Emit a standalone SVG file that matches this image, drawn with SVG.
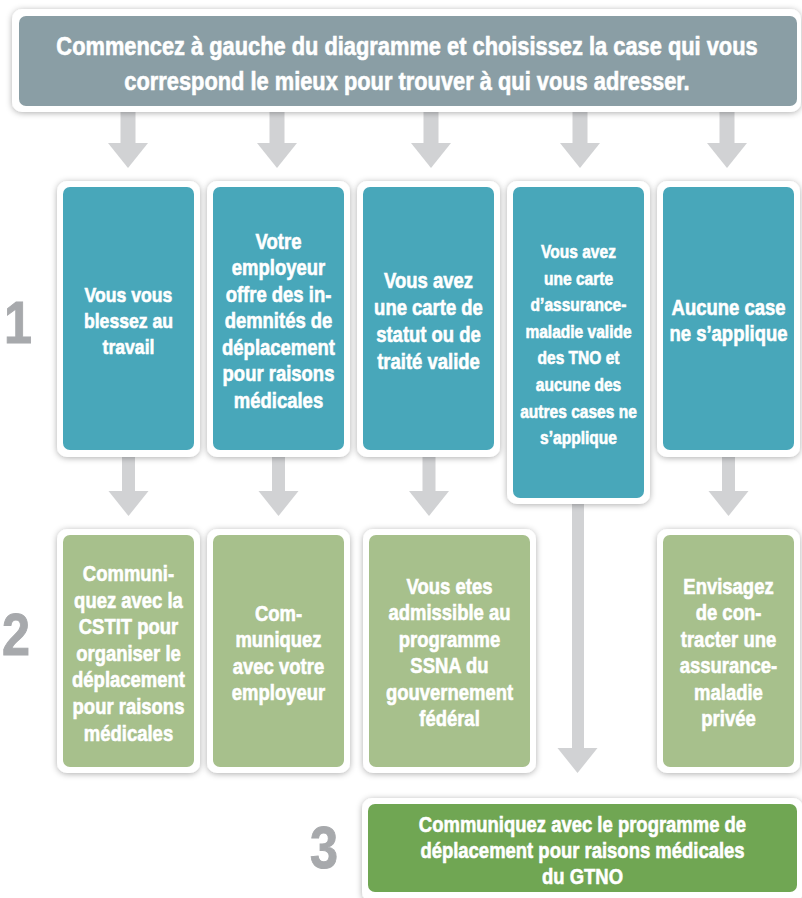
<svg xmlns="http://www.w3.org/2000/svg" width="802" height="898" viewBox="0 0 802 898">
<defs>
<filter id="sh" x="-10%" y="-10%" width="120%" height="120%">
<feDropShadow dx="0" dy="1" stdDeviation="3" flood-color="#000" flood-opacity="0.32"/>
</filter>
<style>
.frame{fill:#fff;filter:url(#sh)}
.hdr{fill:#8a9ea5}
.teal{fill:#48a7ba}
.green{fill:#a7c08c}
.dgreen{fill:#70a653}
.arr{fill:#d1d2d4}
text{font-family:"Liberation Sans",Arial,sans-serif;font-weight:bold;fill:#fff;stroke:#fff;stroke-width:0.6px;text-anchor:middle}
.num{fill:#a7a9ac;stroke:#a7a9ac;stroke-width:1px;font-size:60px}
</style>
</defs>
<rect width="802" height="898" fill="#fff"/>

<g id="connectors">
<rect class="arr" x="120.5" y="110" width="15" height="34"/><polygon class="arr" points="108,143 148,143 128,168"/>
<rect class="arr" x="269.5" y="110" width="15" height="34"/><polygon class="arr" points="257,143 297,143 277,168"/>
<rect class="arr" x="423.5" y="110" width="15" height="34"/><polygon class="arr" points="411,143 451,143 431,168"/>
<rect class="arr" x="572.5" y="110" width="15" height="34"/><polygon class="arr" points="560,143 600,143 580,168"/>
<rect class="arr" x="719.5" y="110" width="15" height="34"/><polygon class="arr" points="707,143 747,143 727,168"/>
<rect class="arr" x="122" y="455" width="13" height="37"/><polygon class="arr" points="108.5,491 148.5,491 128.5,516"/>
<rect class="arr" x="272" y="455" width="13" height="37"/><polygon class="arr" points="258.5,491 298.5,491 278.5,516"/>
<rect class="arr" x="422.5" y="455" width="13" height="37"/><polygon class="arr" points="409,491 449,491 429,516"/>
<rect class="arr" x="722" y="455" width="13" height="37"/><polygon class="arr" points="708.5,491 748.5,491 728.5,516"/>
<rect class="arr" x="572" y="502" width="12" height="248"/><polygon class="arr" points="557.5,748 597.5,748 577.5,773"/>
</g>

<g id="header">
<rect class="frame" x="12" y="9" width="789" height="103" rx="10"/>
<rect class="hdr" x="19" y="16" width="778" height="90" rx="7"/>
<g transform="translate(407,0) scale(0.84,1)" font-size="26">
<text x="0" y="55">Commencez à gauche du diagramme et choisissez la case qui vous</text>
<text x="0" y="90">correspond le mieux pour trouver à qui vous adresser.</text>
</g>
</g>

<g id="num1"><g transform="translate(18,0) scale(0.84,1)"><text class="num" x="0" y="343">1</text></g></g>
<g id="num2"><g transform="translate(16,0) scale(0.84,1)"><text class="num" x="0" y="655">2</text></g></g>
<g id="num3"><g transform="translate(324,0) scale(0.84,1)"><text class="num" x="0" y="868">3</text></g></g>

<g id="t1">
<rect class="frame" x="57" y="181" width="143" height="276" rx="10"/>
<rect class="teal" x="63" y="187" width="131" height="263" rx="7"/>
<g transform="translate(128.5,0) scale(0.84,1)" font-size="21">
<text x="0" y="302">Vous vous</text><text x="0" y="328">blessez au</text><text x="0" y="354">travail</text>
</g>
</g>

<g id="t2">
<rect class="frame" x="207" y="181" width="143" height="276" rx="10"/>
<rect class="teal" x="213" y="187" width="131" height="263" rx="7"/>
<g transform="translate(278.5,0) scale(0.84,1)" font-size="22">
<text x="0" y="249">Votre</text><text x="0" y="275.5">employeur</text><text x="0" y="302">offre des in-</text><text x="0" y="328.5">demnités de</text><text x="0" y="355">déplacement</text><text x="0" y="381.5">pour raisons</text><text x="0" y="408">médicales</text>
</g>
</g>

<g id="t3">
<rect class="frame" x="357" y="181" width="143" height="276" rx="10"/>
<rect class="teal" x="363" y="187" width="131" height="263" rx="7"/>
<g transform="translate(428.5,0) scale(0.84,1)" font-size="22">
<text x="0" y="288">Vous avez</text><text x="0" y="315">une carte de</text><text x="0" y="342">statut ou de</text><text x="0" y="369">traité valide</text>
</g>
</g>

<g id="t4">
<rect class="frame" x="507" y="181" width="143" height="323" rx="10"/>
<rect class="teal" x="513" y="187" width="131" height="311" rx="7"/>
<g transform="translate(578.5,0) scale(0.84,1)" font-size="18.5">
<text x="0" y="258">Vous avez</text><text x="0" y="284.6">une carte</text><text x="0" y="311.2">d’assurance-</text><text x="0" y="337.8">maladie valide</text><text x="0" y="364.4">des TNO et</text><text x="0" y="391">aucune des</text><text x="0" y="417.6">autres cases ne</text><text x="0" y="444.2">s’applique</text>
</g>
</g>

<g id="t5">
<rect class="frame" x="657" y="181" width="143" height="276" rx="10"/>
<rect class="teal" x="663" y="187" width="131" height="263" rx="7"/>
<g transform="translate(728.5,0) scale(0.84,1)" font-size="22">
<text x="0" y="315">Aucune case</text><text x="0" y="341">ne s’applique</text>
</g>
</g>

<g id="g1">
<rect class="frame" x="57" y="529" width="143" height="244" rx="10"/>
<rect class="green" x="63" y="535" width="131" height="232" rx="7"/>
<g transform="translate(128.5,0) scale(0.84,1)" font-size="22">
<text x="0" y="581">Communi-</text><text x="0" y="607.6">quez avec la</text><text x="0" y="634.2">CSTIT pour</text><text x="0" y="660.8">organiser le</text><text x="0" y="687.4">déplacement</text><text x="0" y="714">pour raisons</text><text x="0" y="740.6">médicales</text>
</g>
</g>

<g id="g2">
<rect class="frame" x="207" y="529" width="143" height="244" rx="10"/>
<rect class="green" x="213" y="535" width="131" height="232" rx="7"/>
<g transform="translate(278.5,0) scale(0.84,1)" font-size="22">
<text x="0" y="621">Com-</text><text x="0" y="647.4">muniquez</text><text x="0" y="673.8">avec votre</text><text x="0" y="700.2">employeur</text>
</g>
</g>

<g id="g3">
<rect class="frame" x="363" y="529" width="173" height="244" rx="10"/>
<rect class="green" x="369" y="535" width="161" height="232" rx="7"/>
<g transform="translate(449.5,0) scale(0.84,1)" font-size="22">
<text x="0" y="594">Vous etes</text><text x="0" y="620.5">admissible au</text><text x="0" y="647">programme</text><text x="0" y="673.5">SSNA du</text><text x="0" y="700">gouvernement</text><text x="0" y="726.5">fédéral</text>
</g>
</g>

<g id="g5">
<rect class="frame" x="657" y="529" width="143" height="244" rx="10"/>
<rect class="green" x="663" y="535" width="131" height="232" rx="7"/>
<g transform="translate(728.5,0) scale(0.84,1)" font-size="22">
<text x="0" y="594">Envisagez</text><text x="0" y="620.5">de con-</text><text x="0" y="647">tracter une</text><text x="0" y="673.5">assurance-</text><text x="0" y="700">maladie</text><text x="0" y="726.5">privée</text>
</g>
</g>

<g id="final">
<rect class="frame" x="362" y="798" width="441" height="104" rx="10"/>
<rect class="dgreen" x="368" y="804" width="429" height="88" rx="7"/>
<g transform="translate(582.5,0) scale(0.84,1)" font-size="22">
<text x="0" y="832">Communiquez avec le programme de</text><text x="0" y="858">déplacement pour raisons médicales</text><text x="0" y="884">du GTNO</text>
</g>
</g>
</svg>
